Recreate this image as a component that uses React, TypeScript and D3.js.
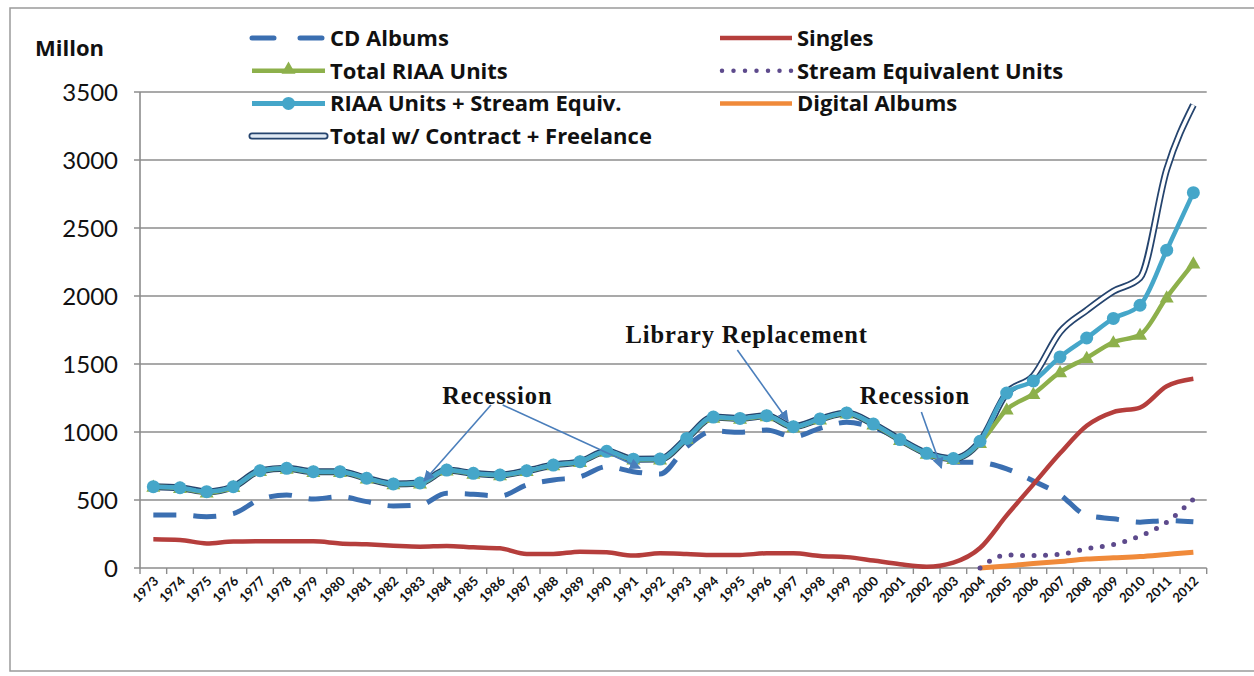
import React from "react";
import * as d3 from "d3";

const years = [
  1973, 1974, 1975, 1976, 1977, 1978, 1979, 1980, 1981, 1982,
  1983, 1984, 1985, 1986, 1987, 1988, 1989, 1990, 1991, 1992,
  1993, 1994, 1995, 1996, 1997, 1998, 1999, 2000, 2001, 2002,
  2003, 2004, 2005, 2006, 2007, 2008, 2009, 2010, 2011, 2012,
];

const cdAlbums = [
  390, 390, 377, 400, 505, 537, 507, 524, 488, 456,
  463, 549, 542, 529, 610, 647, 671, 745, 708, 691,
  892, 1007, 998, 1015, 965, 1027, 1071, 1033, 950, 830,
  780, 775, 729, 640, 539, 387, 362, 337, 349, 340,
];

const singles = [
  211, 206, 181, 195, 196, 196, 196, 181, 174, 164,
  157, 162, 152, 145, 103, 103, 120, 115, 91, 108,
  103, 96, 96, 108, 108, 88, 80, 55, 28, 10,
  40, 147, 387, 615, 843, 1046, 1147, 1180, 1337, 1392,
];

const totalRiaa = [
  598, 588, 555, 596, 713, 731, 706, 706, 658, 616,
  622, 718, 694, 682, 713, 755, 780, 855, 798, 799,
  950, 1106, 1097, 1117, 1036, 1093, 1137, 1055, 941, 840,
  802, 919, 1165, 1280, 1440, 1545, 1660, 1715, 1990, 2240,
];

const riaaPlusStream = [
  598, 590, 561, 598, 715, 733, 708, 708, 660, 618,
  625, 720, 696, 684, 715, 757, 782, 858, 800, 801,
  953, 1110, 1100, 1120, 1039, 1096, 1140, 1058, 944, 843,
  805, 932, 1286, 1375, 1552, 1691, 1835, 1932, 2337, 2760,
];

const totalContract = [
  598, 590, 561, 598, 715, 733, 708, 708, 660, 618,
  625, 720, 696, 684, 715, 757, 782, 858, 800, 801,
  953, 1110, 1100, 1120, 1039, 1096, 1140, 1058, 944, 843,
  805, 932, 1286, 1413, 1735, 1895, 2035, 2134, 2930, 3405,
];

const streamEquiv: (number | null)[] = [
  null, null, null, null, null, null, null, null, null, null,
  null, null, null, null, null, null, null, null, null, null,
  null, null, null, null, null, null, null, null, null, null,
  null, 0, 96, 91, 101, 142, 172, 235, 337, 506,
];

const digitalAlbums: (number | null)[] = [
  null, null, null, null, null, null, null, null, null, null,
  null, null, null, null, null, null, null, null, null, null,
  null, null, null, null, null, null, null, null, null, null,
  null, 0, 15, 33, 48, 66, 75, 84, 100, 116,
];

const yTicks = [0, 500, 1000, 1500, 2000, 2500, 3000, 3500];

const annotations = [
  { text: "Recession", tx: 1985.9, ty: 1206, arrows: [[1985.66, 1199, 1983.15, 640], [1986.1, 1199, 1991.25, 735]] },
  { text: "Library Replacement", tx: 1995.25, ty: 1654, arrows: [[1994.9, 1603, 1996.8, 1081]] },
  { text: "Recession", tx: 2001.56, ty: 1206, arrows: [[2001.8, 1147, 2002.55, 735]] },
];

const C = {
  cd: "#3b6fb1",
  singles: "#b53e3c",
  green: "#8db04b",
  purple: "#5d4a8c",
  teal: "#45a6c9",
  orange: "#f08a3a",
  contractOuter: "#25446e",
  grid: "#8c8c8c",
  arrow: "#4a7ebb",
};

export default function App() {
  const W = 1254;
  const H = 676;
  const x = d3.scaleBand<number>().domain(years).range([140, 1206.7]);
  const bw = x.bandwidth();
  const cx = (yr: number) => (x(yr) as number) + bw / 2;
  const xLin = d3.scaleLinear().domain([1973, 2012]).range([cx(1973), cx(2012)]);
  const y = d3.scaleLinear().domain([0, 3500]).range([568, 92]);

  const mk = (vals: (number | null)[]) =>
    years.map((yr, i) => [yr, vals[i]] as [number, number | null]);
  const line = d3
    .line<[number, number | null]>()
    .defined((d) => d[1] != null)
    .x((d) => cx(d[0]))
    .y((d) => y(d[1] as number))
    .curve(d3.curveMonotoneX);

  const tri = d3.symbol(d3.symbolTriangle, 85)() as string;
  const sans = "Lato, 'Open Sans', sans-serif";
  const legendFont = "'Open Sans', Lato, sans-serif";
  const serif = "'Liberation Serif', 'DejaVu Serif', serif";

  const leftLegend = [
    { label: "CD Albums", kind: "cd" },
    { label: "Total RIAA Units", kind: "green" },
    { label: "RIAA Units + Stream Equiv.", kind: "teal" },
    { label: "Total w/ Contract + Freelance", kind: "contract" },
  ];
  const rightLegend = [
    { label: "Singles", kind: "singles" },
    { label: "Stream Equivalent Units", kind: "purple" },
    { label: "Digital Albums", kind: "orange" },
  ];

  const legendSym = (kind: string, x0: number, x1: number, yy: number) => {
    const mid = (x0 + x1) / 2;
    switch (kind) {
      case "cd":
        return <line x1={x0} x2={x1} y1={yy} y2={yy} stroke={C.cd} strokeWidth={5} strokeDasharray="22 26" strokeLinecap="round" />;
      case "green":
        return (
          <g>
            <line x1={x0} x2={x1} y1={yy} y2={yy} stroke={C.green} strokeWidth={4.5} />
            <path d={tri} transform={`translate(${mid},${yy - 1})`} fill={C.green} />
          </g>
        );
      case "teal":
        return (
          <g>
            <line x1={x0} x2={x1} y1={yy} y2={yy} stroke={C.teal} strokeWidth={5} />
            <circle cx={mid} cy={yy} r={6.5} fill={C.teal} />
          </g>
        );
      case "contract":
        return (
          <g>
            <line x1={x0} x2={x1} y1={yy} y2={yy} stroke={C.contractOuter} strokeWidth={7} strokeLinecap="round" />
            <line x1={x0} x2={x1} y1={yy} y2={yy} stroke="#dfe9f4" strokeWidth={3.5} strokeLinecap="round" />
          </g>
        );
      case "singles":
        return <line x1={x0} x2={x1} y1={yy} y2={yy} stroke={C.singles} strokeWidth={4.5} />;
      case "purple":
        return <line x1={x0 + 2} x2={x1} y1={yy} y2={yy} stroke={C.purple} strokeWidth={4.5} strokeDasharray="0 11.5" strokeLinecap="round" />;
      case "orange":
        return <line x1={x0} x2={x1} y1={yy} y2={yy} stroke={C.orange} strokeWidth={4.5} />;
    }
    return null;
  };

  return (
    <div style={{ position: "absolute", left: 0, top: 0 }}>
      <svg width={W} height={H} style={{ display: "block", background: "#fff" }}>
        <defs>
          <marker id="ah" viewBox="0 0 10 10" refX="9" refY="5" markerWidth="7" markerHeight="7" orient="auto-start-reverse">
            <path d="M0,0 L10,5 L0,10 z" fill={C.arrow} />
          </marker>
        </defs>
        <rect x={10} y={8} width={1300} height={663} fill="none" stroke="#9a9a9a" strokeWidth={1.5} />

        {/* gridlines */}
        {yTicks.map((t) => (
          <line key={t} x1={134} x2={1206.7} y1={y(t)} y2={y(t)} stroke={C.grid} strokeWidth={t === 0 ? 1.6 : 1.4} />
        ))}
        <line x1={140} x2={140} y1={y(3500)} y2={y(0)} stroke={C.grid} strokeWidth={1.6} />
        {years.map((yr) => (
          <line key={yr} x1={x(yr) as number} x2={x(yr) as number} y1={y(0)} y2={y(0) + 6} stroke={C.grid} strokeWidth={1.4} />
        ))}
        <line x1={1206.7} x2={1206.7} y1={y(0)} y2={y(0) + 6} stroke={C.grid} strokeWidth={1.4} />

        {/* y tick labels */}
        {yTicks.map((t) => (
          <text key={t} x={118} y={y(t)} dy="0.36em" textAnchor="end" fontFamily={sans} fontSize={24} fill="#111">
            {t}
          </text>
        ))}
        <text x={35} y={56} fontFamily={legendFont} fontWeight={700} fontSize={22} fill="#111">
          Millon
        </text>

        {/* x tick labels */}
        {years.map((yr) => (
          <text
            key={yr}
            transform={`translate(${cx(yr) + 6},${y(0) + 14}) rotate(-45)`}
            textAnchor="end"
            fontFamily={sans}
            fontWeight={700}
            fontSize={13}
            fill="#111"
          >
            {yr}
          </text>
        ))}

        {/* series */}
        <path d={line(mk(cdAlbums)) as string} fill="none" stroke={C.cd} strokeWidth={5} strokeDasharray="23 17" />
        <path d={line(mk(singles)) as string} fill="none" stroke={C.singles} strokeWidth={4.5} />
        <path d={line(mk(digitalAlbums)) as string} fill="none" stroke={C.orange} strokeWidth={5} />
        <path d={line(mk(streamEquiv)) as string} fill="none" stroke={C.purple} strokeWidth={5} strokeDasharray="0 11.5" strokeLinecap="round" />
        <path d={line(mk(totalContract)) as string} fill="none" stroke={C.contractOuter} strokeWidth={7} />
        <path d={line(mk(totalContract)) as string} fill="none" stroke="#ffffff" strokeWidth={3.5} />
        <path d={line(mk(totalRiaa)) as string} fill="none" stroke={C.green} strokeWidth={4.5} />
        {years.map((yr, i) => (
          <path key={yr} d={tri} transform={`translate(${cx(yr)},${y(totalRiaa[i]) + 1})`} fill={C.green} />
        ))}
        <path d={line(mk(riaaPlusStream)) as string} fill="none" stroke={C.teal} strokeWidth={4.5} />
        {years.map((yr, i) => (
          <circle key={yr} cx={cx(yr)} cy={y(riaaPlusStream[i])} r={6.5} fill={C.teal} />
        ))}

        {/* annotations */}
        {annotations.map((a, i) => (
          <g key={i}>
            {a.arrows.map((ar, j) => (
              <line
                key={j}
                x1={xLin(ar[0])}
                y1={y(ar[1])}
                x2={xLin(ar[2])}
                y2={y(ar[3])}
                stroke={C.arrow}
                strokeWidth={1.6}
                markerEnd="url(#ah)"
              />
            ))}
            <text x={xLin(a.tx)} y={y(a.ty)} textAnchor="middle" fontFamily={serif} fontWeight={700} fontSize={24.5} letterSpacing={0.9} fill="#111">
              {a.text}
            </text>
          </g>
        ))}

        {/* legend */}
        {leftLegend.map((l, i) => (
          <g key={l.label}>
            {legendSym(l.kind, 252, 325, 38 + i * 32.7)}
            <text x={330} y={38 + i * 32.7} dy="0.36em" fontFamily={legendFont} fontWeight={700} fontSize={22} fill="#111">
              {l.label}
            </text>
          </g>
        ))}
        {rightLegend.map((l, i) => (
          <g key={l.label}>
            {legendSym(l.kind, 720, 792, 38 + i * 32.7)}
            <text x={797} y={38 + i * 32.7} dy="0.36em" fontFamily={legendFont} fontWeight={700} fontSize={22} fill="#111">
              {l.label}
            </text>
          </g>
        ))}
      </svg>
    </div>
  );
}
